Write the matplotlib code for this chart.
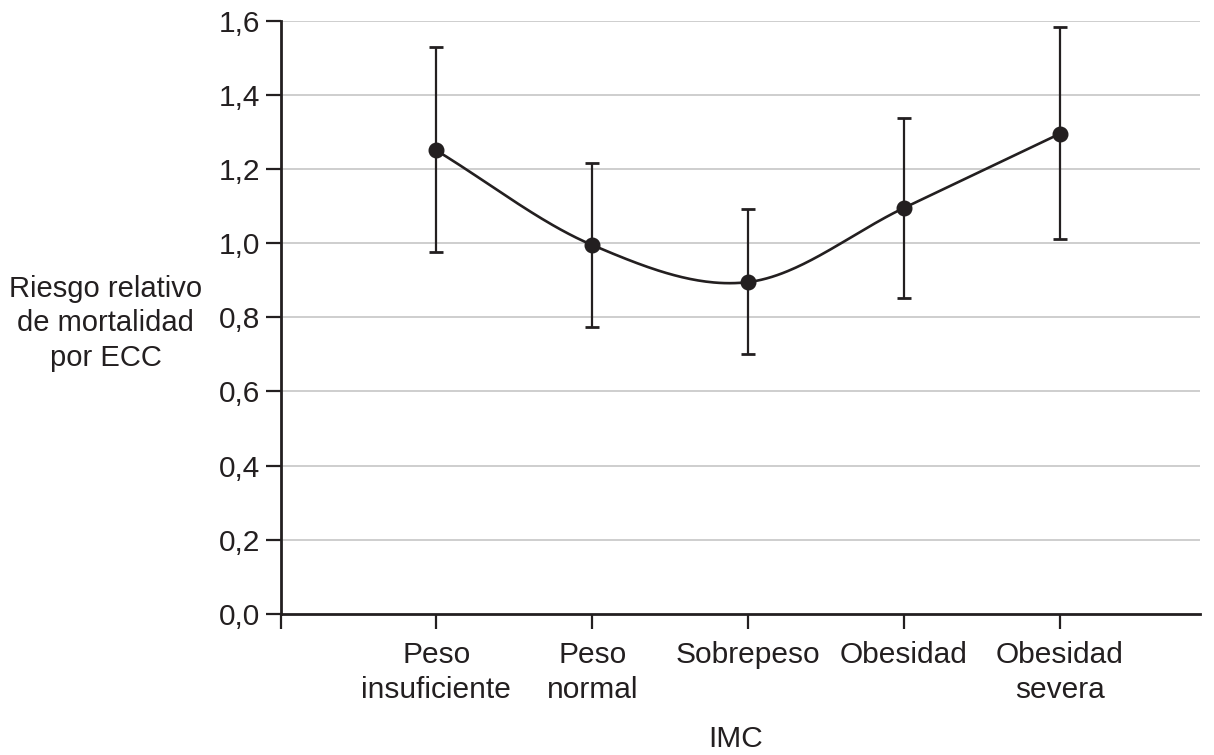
import numpy as np
import matplotlib
matplotlib.use("Agg")
import matplotlib.pyplot as plt

categories = ["Peso\ninsuficiente", "Peso\nnormal", "Sobrepeso", "Obesidad", "Obesidad\nsevera"]
riesgo = [1.25, 0.995, 0.895, 1.095, 1.295]
ic_inferior = [0.975, 0.775, 0.70, 0.853, 1.01]
ic_superior = [1.528, 1.217, 1.093, 1.337, 1.583]
y_ticks = [0.0, 0.2, 0.4, 0.6, 0.8, 1.0, 1.2, 1.4, 1.6]
y_tick_labels = ["0,0", "0,2", "0,4", "0,6", "0,8", "1,0", "1,2", "1,4", "1,6"]

ink = "#231f20"
plt.rcParams['font.family'] = ['Liberation Sans', 'DejaVu Sans']

fig = plt.figure(figsize=(12.14, 7.55), dpi=100)
ax = fig.add_axes([0.2311, 0.1868, 0.7574, 0.7858])

x = np.arange(1, len(riesgo) + 1, dtype=float)
y = np.array(riesgo)

# Catmull-Rom style smooth curve through the points
def smooth(xp, yp, n=60):
    m = np.zeros_like(yp)
    m[1:-1] = (yp[2:] - yp[:-2]) / (xp[2:] - xp[:-2])
    m[0] = (yp[1] - yp[0]) / (xp[1] - xp[0])
    m[-1] = (yp[-1] - yp[-2]) / (xp[-1] - xp[-2])
    xs, ys = [], []
    for i in range(len(xp) - 1):
        t = np.linspace(0, 1, n)
        h = xp[i + 1] - xp[i]
        h00 = 2 * t**3 - 3 * t**2 + 1
        h10 = t**3 - 2 * t**2 + t
        h01 = -2 * t**3 + 3 * t**2
        h11 = t**3 - t**2
        xs.append(xp[i] + t * h)
        ys.append(h00 * yp[i] + h10 * h * m[i] + h01 * yp[i + 1] + h11 * h * m[i + 1])
    return np.concatenate(xs), np.concatenate(ys)

xs, ys = smooth(x, y)
ax.plot(xs, ys, color=ink, lw=1.9, zorder=3)

lo = y - np.array(ic_inferior)
hi = np.array(ic_superior) - y
ax.errorbar(x, y, yerr=[lo, hi], fmt='o', color=ink, ms=10.5, elinewidth=1.6,
            capsize=5, capthick=2, zorder=4)

ax.set_xlim(0, 5.9)
ax.set_ylim(0, 1.6)
ax.set_yticks(y_ticks)
ax.set_yticklabels(y_tick_labels)
ax.set_xticks(np.arange(0, len(categories) + 1))
ax.set_xticklabels([""] + categories, linespacing=1.33)

for v in y_ticks[1:]:
    ax.axhline(v, color="#cacaca", lw=1.3, zorder=1)

for s in ["top", "right"]:
    ax.spines[s].set_visible(False)
for s in ["left", "bottom"]:
    ax.spines[s].set_color(ink)
    ax.spines[s].set_linewidth(2)

ax.tick_params(axis='both', direction='out', length=10.5, width=1.6, color=ink,
               labelsize=21.5, labelcolor=ink)
ax.tick_params(axis='x', pad=9)
ax.tick_params(axis='y', pad=4)

fig.text(0.606, 0.021, "IMC", ha='center', va='center', fontsize=21.5, color=ink)
fig.text(0.087, 0.572, "Riesgo relativo\nde mortalidad\npor ECC", ha='center', va='center',
         fontsize=21, color=ink, linespacing=1.3)

fig.savefig("out.png", dpi=100, facecolor="white")
